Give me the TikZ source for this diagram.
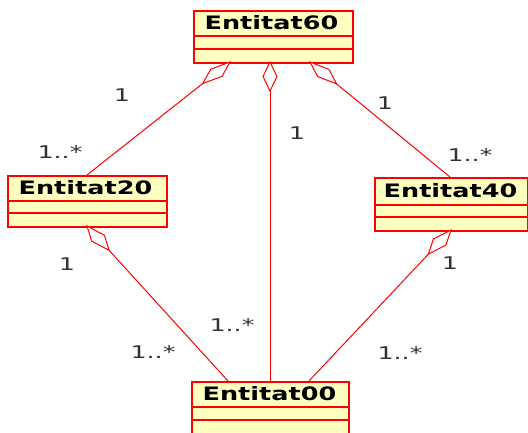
\documentclass[tikz,border=0pt]{standalone}
\usepackage{fontspec}
\setmainfont{DejaVu Sans}
\usepackage{graphicx}
\definecolor{boxfill}{RGB}{255,255,192}
\definecolor{lblgray}{RGB}{50,50,50}
\begin{document}
\begin{tikzpicture}[x=1pt,y=-1pt,
  classbox/.style={draw=red, line width=1.6pt, fill=boxfill, inner sep=0, anchor=north west},
  divider/.style={draw=red, line width=1.4pt},
  boxtitle/.style={inner sep=0, font=\bfseries\fontsize{18.5}{20}\selectfont},
  assoc/.style={draw=red, line width=1pt},
  agg/.style={draw=red, line width=1pt, fill=white, line join=miter},
  multlabel/.style={inner sep=0, text=lblgray, font=\fontsize{17.5}{20}\selectfont}]
\useasboundingbox (0,0) rectangle (528,432);
% classes
\node[classbox, minimum width=159pt, minimum height=52pt] (e60) at (193,10) {};
\draw[divider] (193,36) -- (352,36);
\draw[divider] (193,49) -- (352,49);
\node[boxtitle] (t60) at (271.5,23) {\scalebox{1.38}[1]{Entitat60}};

\node[classbox, minimum width=159pt, minimum height=51pt] (e20) at (7,175) {};
\draw[divider] (7,201) -- (166,201);
\draw[divider] (7,213) -- (166,213);
\node[boxtitle] (t20) at (85.5,188) {\scalebox{1.38}[1]{Entitat20}};

\node[classbox, minimum width=153pt, minimum height=53pt] (e40) at (374,177) {};
\draw[divider] (374,205) -- (527,205);
\draw[divider] (374,217) -- (527,217);
\node[boxtitle] (t40) at (450.5,191) {\scalebox{1.38}[1]{Entitat40}};

\node[classbox, minimum width=157pt, minimum height=53pt] (e00) at (191,381) {};
\draw[divider] (191,407) -- (348,407);
\draw[divider] (191,420) -- (348,420);
\node[boxtitle] (t00) at (269.5,394) {\scalebox{1.38}[1]{Entitat00}};

% attachment points
\coordinate (p60a) at (230,62);   \coordinate (f60a) at (202.7,83.5);
\coordinate (p60b) at (270,62);   \coordinate (f60b) at (270,91);
\coordinate (p60c) at (310,62);   \coordinate (f60c) at (336.6,83.9);
\coordinate (p20t) at (87,175);
\coordinate (p20b) at (87,226);   \coordinate (f20b) at (109.1,250.3);
\coordinate (p40t) at (450,177);
\coordinate (p40b) at (451,230);  \coordinate (f40b) at (428.4,254.1);
\coordinate (p00a) at (228,381);
\coordinate (p00b) at (270,381);
\coordinate (p00c) at (309,381);

% connectors
\draw[assoc] (f60a) -- (p20t);
\draw[assoc] (f60b) -- (p00b);
\draw[assoc] (f60c) -- (p40t);
\draw[assoc] (f20b) -- (p00a);
\draw[assoc] (f40b) -- (p00c);

% aggregation diamonds
\draw[agg] (p60a) -- (222,76.4) -- (f60a) -- (210.8,69.2) -- cycle;
\draw[agg] (p60b) -- (277,76.5) -- (f60b) -- (263,76.5) -- cycle;
\draw[agg] (p60c) -- (329,69.4) -- (f60c) -- (317.6,76.5) -- cycle;
\draw[agg] (p20b) -- (104.4,235.2) -- (f20b) -- (91.7,241.1) -- cycle;
\draw[agg] (p40b) -- (445.9,245) -- (f40b) -- (433.4,239) -- cycle;

% multiplicities
\node[multlabel] (m1) at (122,95) {\scalebox{1.45}[1]{1}};
\node[multlabel] (m2) at (60,152) {\scalebox{1.45}[1]{1..*}};
\node[multlabel] (m3) at (297,133) {\scalebox{1.45}[1]{1}};
\node[multlabel] (m4) at (385,103) {\scalebox{1.45}[1]{1}};
\node[multlabel] (m5) at (470,155) {\scalebox{1.45}[1]{1..*}};
\node[multlabel] (m6) at (67,264) {\scalebox{1.45}[1]{1}};
\node[multlabel] (m7) at (232,325) {\scalebox{1.45}[1]{1..*}};
\node[multlabel] (m8) at (153,352) {\scalebox{1.45}[1]{1..*}};
\node[multlabel] (m9) at (450,263) {\scalebox{1.45}[1]{1}};
\node[multlabel] (m10) at (400,353) {\scalebox{1.45}[1]{1..*}};
\end{tikzpicture}
\end{document}
